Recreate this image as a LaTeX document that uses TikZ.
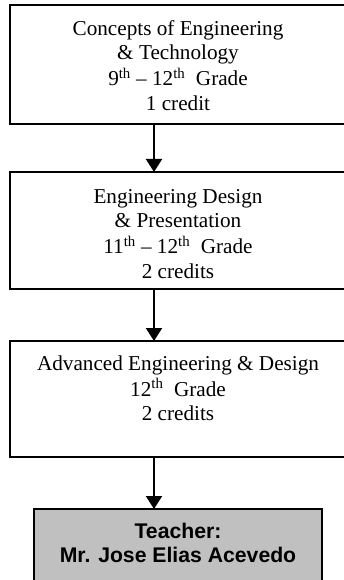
\documentclass[tikz,border=0pt]{standalone}
\usepackage{fontspec}
\setmainfont{Liberation Serif}
\setsansfont{Liberation Sans}
\usetikzlibrary{arrows.meta}
\definecolor{teachergray}{RGB}{192,192,192}
\newcommand{\sps}[1]{\textsuperscript{#1}}
\begin{document}
\begin{tikzpicture}[x=1pt,y=-1pt,
  box/.style={draw=black, line width=2pt, fill=white, rectangle, inner sep=0pt, outer sep=0pt},
  graybox/.style={box, fill=teachergray},
  txt/.style={inner sep=0pt, align=center, anchor=north, font=\fontsize{21.2}{24.5}\selectfont},
  boldtxt/.style={txt, font=\fontsize{21.2}{24.5}\selectfont\sffamily\bfseries},
  arr/.style={line width=2pt, -{Triangle[width=16pt,length=13pt]}}]
\useasboundingbox (0,0) rectangle (344,580);
% boxes
\node[box, minimum width=336pt, minimum height=119pt] (b1) at (178,64.5) {};
\node[box, minimum width=336pt, minimum height=117pt] (b2) at (178,230.5) {};
\node[box, minimum width=336pt, minimum height=116pt] (b3) at (178,399) {};
\node[graybox, minimum width=288pt, minimum height=78pt] (b4) at (178,548) {};
% texts
\node[txt] (t1) at (178,17.85) {\strut Concepts of Engineering\\\strut \& Technology\\\strut 9\sps{th} -- 12\sps{th}\ \ Grade\\\strut 1 credit};
\node[txt] (t2) at (178,185.85) {\strut Engineering Design\\\strut \& Presentation\\\strut 11\sps{th} -- 12\sps{th}\ \ Grade\\\strut 2 credits};
\node[txt] (t3) at (178,352.85) {\strut Advanced Engineering \& Design\\\strut 12\sps{th}\ \ Grade\\\strut 2 credits};
\node[boldtxt] (t4) at (178,520.85) {\strut Teacher:\\\strut Mr. Jose Elias Acevedo};
% arrows
\coordinate (ax) at (154,0);
\draw[arr] (b1.south -| ax) -- (b2.north -| ax);
\draw[arr] (b2.south -| ax) -- (b3.north -| ax);
\draw[arr] (b3.south -| ax) -- (b4.north -| ax);
\end{tikzpicture}
\end{document}
